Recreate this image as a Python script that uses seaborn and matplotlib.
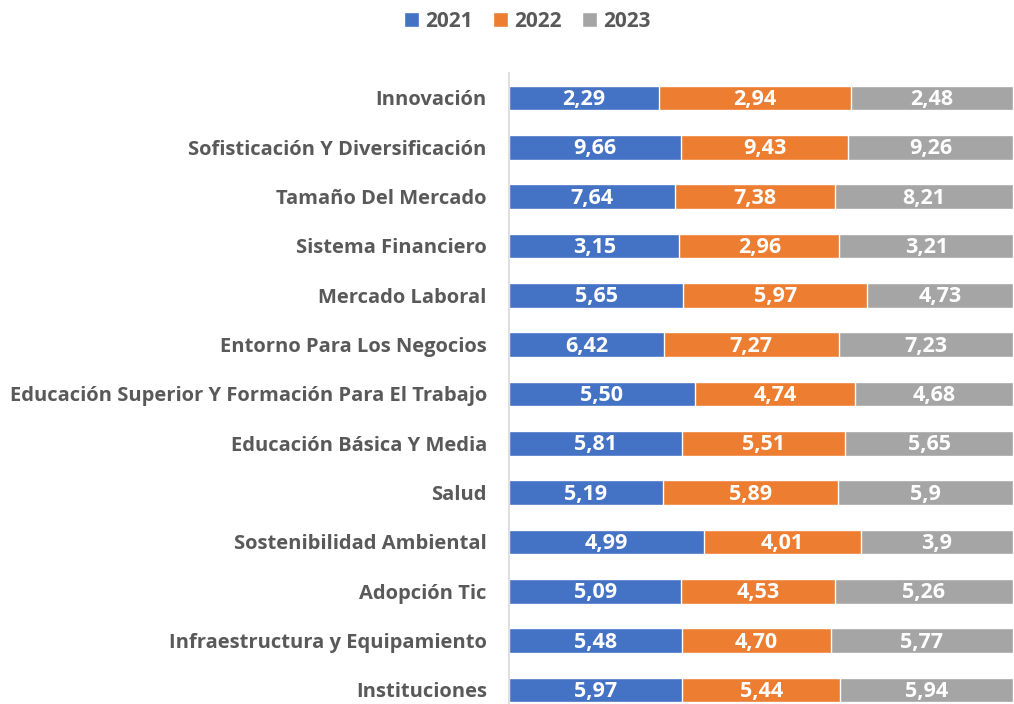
import matplotlib.pyplot as plt
import seaborn as sns
import pandas as pd
from matplotlib.patches import Patch

# data (labels kept as shown)
categories = [
    "Innovación",
    "Sofisticación Y Diversificación",
    "Tamaño Del Mercado",
    "Sistema Financiero",
    "Mercado Laboral",
    "Entorno Para Los Negocios",
    "Educación Superior Y Formación Para El Trabajo",
    "Educación Básica Y Media",
    "Salud",
    "Sostenibilidad Ambiental",
    "Adopción Tic",
    "Infraestructura y Equipamiento",
    "Instituciones",
]
lbl_2021 = ["2,29", "9,66", "7,64", "3,15", "5,65", "6,42", "5,50", "5,81", "5,19", "4,99", "5,09", "5,48", "5,97"]
lbl_2022 = ["2,94", "9,43", "7,38", "2,96", "5,97", "7,27", "4,74", "5,51", "5,89", "4,01", "4,53", "4,70", "5,44"]
lbl_2023 = ["2,48", "9,26", "8,21", "3,21", "4,73", "7,23", "4,68", "5,65", "5,9", "3,9", "5,26", "5,77", "5,94"]
years = ["2021", "2022", "2023"]
colors = ["#4472C4", "#ED7D31", "#A5A5A5"]

def to_num(lst):
    return [float(s.replace(",", ".")) for s in lst]

df = pd.DataFrame({
    "cat": categories,
    "2021": to_num(lbl_2021),
    "2022": to_num(lbl_2022),
    "2023": to_num(lbl_2023),
})
tot = df[years].sum(axis=1)
for y in years:
    df["p" + y] = df[y] / tot * 100
df["c1"] = df["p2021"]
df["c2"] = df["p2021"] + df["p2022"]
df["c3"] = df["c2"] + df["p2023"]

sns.set_style("white")
plt.rcParams["font.family"] = ["Open Sans", "DejaVu Sans"]

fig = plt.figure(figsize=(10.14, 7.04), dpi=100)
ax = fig.add_axes([0.502, -0.015, 0.497, 0.911])

# draw cumulative layers back to front
for col, c in zip(["c3", "c2", "c1"], colors[::-1]):
    sns.barplot(data=df, x=col, y="cat", orient="h", color=c, width=0.5,
                edgecolor="white", linewidth=1, ax=ax, saturation=1)

# segment labels
labels = [lbl_2021, lbl_2022, lbl_2023]
starts = [[0] * len(df), df["c1"].tolist(), df["c2"].tolist()]
widths = [df["p2021"].tolist(), df["p2022"].tolist(), df["p2023"].tolist()]
for k in range(3):
    for i in range(len(df)):
        ax.text(starts[k][i] + widths[k][i] / 2, i + 0.03, labels[k][i], ha="center", va="center",
                color="white", fontsize=15.5, fontweight="bold")

ax.set_xlim(0, 100)
ax.set_ylim(12.5, -0.5)
ax.set_xlabel("")
ax.set_ylabel("")
ax.set_xticks([])
for s in ["top", "right", "bottom"]:
    ax.spines[s].set_visible(False)
ax.spines["left"].set_color("#D9D9D9")
ax.spines["left"].set_linewidth(1.2)
ax.tick_params(axis="y", length=0, pad=16)
for t in ax.get_yticklabels():
    t.set_fontsize(14.5)
    t.set_fontweight("bold")
    t.set_color("#595959")

handles = [Patch(facecolor=c, label=y) for c, y in zip(colors, years)]
leg = fig.legend(handles=handles, loc="center", bbox_to_anchor=(0.52, 0.97), ncol=3,
                 frameon=False, handlelength=0.7, handleheight=0.7, handletextpad=0.3,
                 columnspacing=1.0, prop={"size": 15, "weight": "bold"})
for t in leg.get_texts():
    t.set_color("#595959")

fig.savefig("out.png", dpi=100)
